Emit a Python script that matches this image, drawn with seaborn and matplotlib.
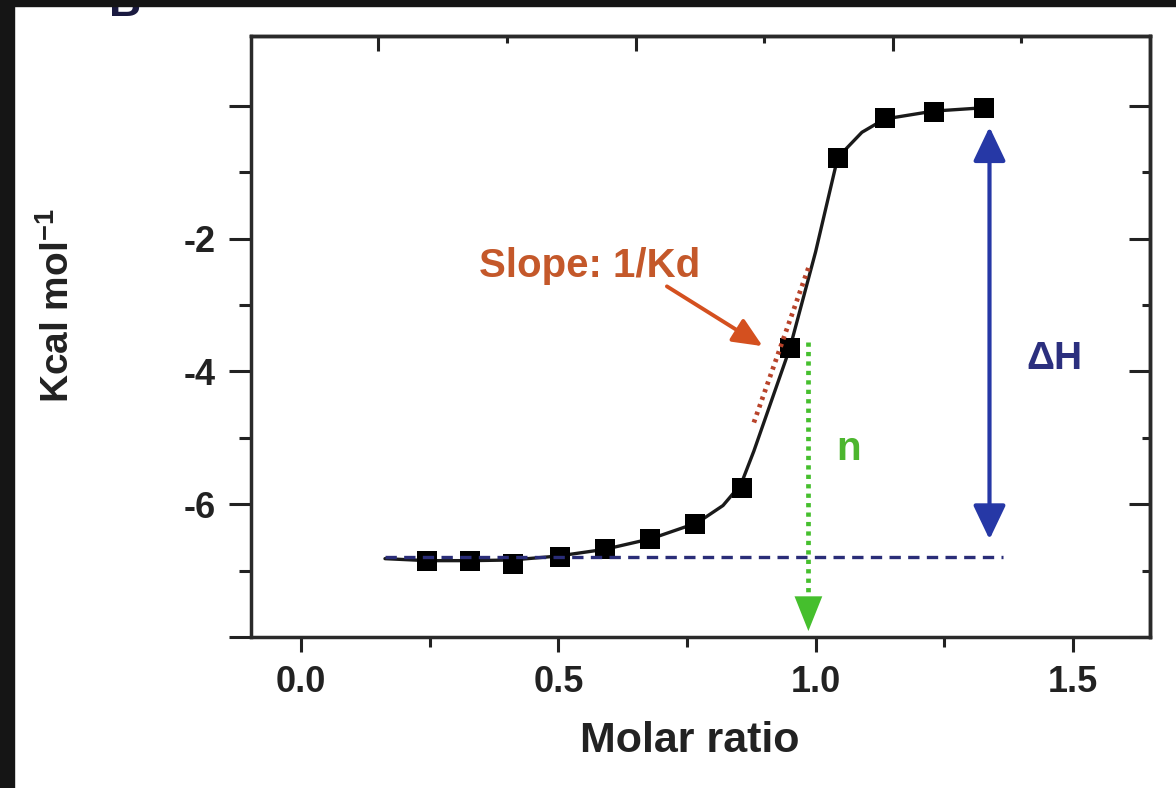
import matplotlib
matplotlib.use("Agg")
import matplotlib.pyplot as plt
import seaborn as sns
from matplotlib.patches import Rectangle
from matplotlib.ticker import FixedLocator

# titration points
molar_ratio = [0.245, 0.328, 0.412, 0.503, 0.590, 0.678, 0.765, 0.856, 0.950, 1.043, 1.134, 1.231, 1.328]
heat = [-6.86, -6.86, -6.90, -6.80, -6.68, -6.53, -6.30, -5.76, -3.65, -0.78, -0.18, -0.09, -0.03]

# fitted curve, sampled by eye
fit_ratio = [0.163, 0.245, 0.33, 0.41, 0.50, 0.59, 0.68, 0.77, 0.82, 0.855, 0.88, 0.95, 1.00, 1.043, 1.09, 1.134, 1.23, 1.328]
fit_heat = [-6.82, -6.85, -6.85, -6.84, -6.78, -6.68, -6.52, -6.28, -6.02, -5.70, -5.20, -3.65, -2.20, -0.78, -0.40, -0.20, -0.08, -0.03]

# annotation guides
baseline_ratio = [0.163, 1.365]
baseline_heat = [-6.80, -6.80]
slope_ratio = [0.880, 0.987]
slope_heat = [-4.77, -2.42]
n_ratio = [0.986, 0.986]
n_heat = [-3.56, -7.40]
n_tip = -7.91
dh_ratio = 1.338
dh_heat = [-6.53, -0.32]

x_ticks = [0.0, 0.5, 1.0, 1.5]
x_tick_labels = ["0.0", "0.5", "1.0", "1.5"]
x_minor = [0.25, 0.75, 1.25]
y_ticks = [0, -2, -4, -6, -8]
y_tick_labels = ["", "-2", "-4", "-6", ""]
y_minor = [-1, -3, -5, -7]
top_ticks = [0.15, 0.65, 1.15]
top_minor = [0.4, 0.9, 1.4]

sns.set_style("ticks")
plt.rcParams["font.family"] = ["Liberation Sans", "DejaVu Sans"]
plt.rcParams["font.weight"] = "bold"
plt.rcParams["axes.labelweight"] = "bold"
plt.rcParams["mathtext.fontset"] = "custom"
plt.rcParams["mathtext.rm"] = "Liberation Sans:bold"
plt.rcParams["mathtext.bf"] = "Liberation Sans:bold"

txt = "#222222"
fig = plt.figure(figsize=(11.76, 7.88), dpi=100)
ax = fig.add_axes([0.2134, 0.1916, 0.7645, 0.7627])

sns.lineplot(x=fit_ratio, y=fit_heat, ax=ax, sort=False, estimator=None,
             color="#1a1a1a", lw=2.4, zorder=2)
sns.scatterplot(x=molar_ratio, y=heat, ax=ax, marker="s", s=200,
                color="black", linewidth=0, zorder=3)
sns.lineplot(x=baseline_ratio, y=baseline_heat, ax=ax, sort=False, estimator=None,
             color="#2a2d78", lw=2.4, linestyle=(0, (3.4, 2.2)), zorder=4)
sns.lineplot(x=slope_ratio, y=slope_heat, ax=ax, sort=False, estimator=None,
             color="#b8432a", lw=3.4, linestyle=(0, (0.7, 1.0)), zorder=5)
sns.lineplot(x=n_ratio, y=n_heat, ax=ax, sort=False, estimator=None,
             color="#45bf2d", lw=3.4, linestyle=(0, (0.9, 1.1)), zorder=5)

# green arrow head
ax.annotate("", xy=(n_ratio[0], n_tip), xytext=(n_ratio[0], n_heat[1]),
            arrowprops=dict(arrowstyle="-|>,head_length=1.25,head_width=0.5",
                            color="#45bf2d", lw=0, mutation_scale=20,
                            shrinkA=0, shrinkB=0), zorder=5)
# delta H double arrow
ax.annotate("", xy=(dh_ratio, dh_heat[1]), xytext=(dh_ratio, dh_heat[0]),
            arrowprops=dict(arrowstyle="<|-|>,head_length=1.05,head_width=0.5",
                            color="#2638a6", lw=3, mutation_scale=20,
                            shrinkA=0, shrinkB=0), zorder=5)
# slope pointer
ax.annotate("", xy=(0.897, -3.62), xytext=(0.711, -2.72),
            arrowprops=dict(arrowstyle="-|>,head_length=0.9,head_width=0.4",
                            color="#d4501f", lw=2.8, mutation_scale=20,
                            shrinkA=0, shrinkB=0), zorder=6)

ax.text(0.561, -2.41, "Slope: 1/Kd", color="#c4582a", fontsize=29,
        ha="center", va="center")
ax.text(1.064, -5.17, "n", color="#4cb62e", fontsize=29, ha="center", va="center")
ax.text(1.464, -3.82, "\u0394H", color="#2b2f7e", fontsize=28, ha="center", va="center")

ax.set_xlim(-0.0975, 1.65)
ax.set_ylim(-8, 1.05)
ax.set_xticks(x_ticks)
ax.set_xticklabels(x_tick_labels)
ax.xaxis.set_minor_locator(FixedLocator(x_minor))
ax.set_yticks(y_ticks)
ax.set_yticklabels(y_tick_labels)
ax.yaxis.set_minor_locator(FixedLocator(y_minor))

ax.tick_params(axis="y", which="major", direction="out", length=16, width=2.2,
               pad=9, labelsize=26, colors=txt)
ax.tick_params(axis="y", which="minor", direction="out", length=9, width=2.2, colors=txt)
ax.tick_params(axis="x", which="major", direction="out", length=11, width=2.2,
               pad=9, labelsize=26, colors=txt)
ax.tick_params(axis="x", which="minor", direction="out", length=7, width=2.2, colors=txt)

sec_y = ax.secondary_yaxis("right")
sec_y.set_yticks(y_ticks)
sec_y.yaxis.set_minor_locator(FixedLocator(y_minor))
sec_y.tick_params(which="major", direction="in", length=15, width=2.2,
                  labelright=False, colors=txt)
sec_y.tick_params(which="minor", direction="in", length=6, width=2.2, colors=txt)
sec_y.spines["right"].set_linewidth(2.5)
sec_y.spines["right"].set_color("#2a2a2a")

sec_x = ax.secondary_xaxis("top")
sec_x.set_xticks(top_ticks)
sec_x.xaxis.set_minor_locator(FixedLocator(top_minor))
sec_x.tick_params(which="major", direction="in", length=11, width=2.2,
                  labeltop=False, colors=txt)
sec_x.tick_params(which="minor", direction="in", length=5, width=2.2, colors=txt)
sec_x.spines["top"].set_linewidth(2.5)
sec_x.spines["top"].set_color("#2a2a2a")

for side in ["left", "right", "top", "bottom"]:
    ax.spines[side].set_visible(True)
    ax.spines[side].set_linewidth(2.5)
    ax.spines[side].set_color("#2a2a2a")

ax.set_xlabel("Molar ratio", fontsize=31, color=txt, fontweight="bold")
ax.xaxis.label.set_va("center")
ax.xaxis.set_label_coords(0.488, -0.173)
ax.set_ylabel("Kcal mol$^{\\mathbf{-1}}$", fontsize=28, color=txt, fontweight="bold")
ax.yaxis.label.set_va("center")
ax.yaxis.set_label_coords(-0.2147, 0.552)

# panel letter cut off at the top, plus the black frame of the screenshot
fig.text(125 / 1176, 1 - 16 / 788, "B", fontsize=32, color="#1a1a40",
         ha="center", va="baseline", zorder=1)
fig.patches.append(Rectangle((0, 0), 14 / 1176, 1, transform=fig.transFigure,
                             color="#151515", zorder=10))
fig.patches.append(Rectangle((0, 1 - 6 / 788), 1, 6 / 788, transform=fig.transFigure,
                             color="#151515", zorder=10))

fig.savefig("out.png", dpi=100)
plt.close(fig)
